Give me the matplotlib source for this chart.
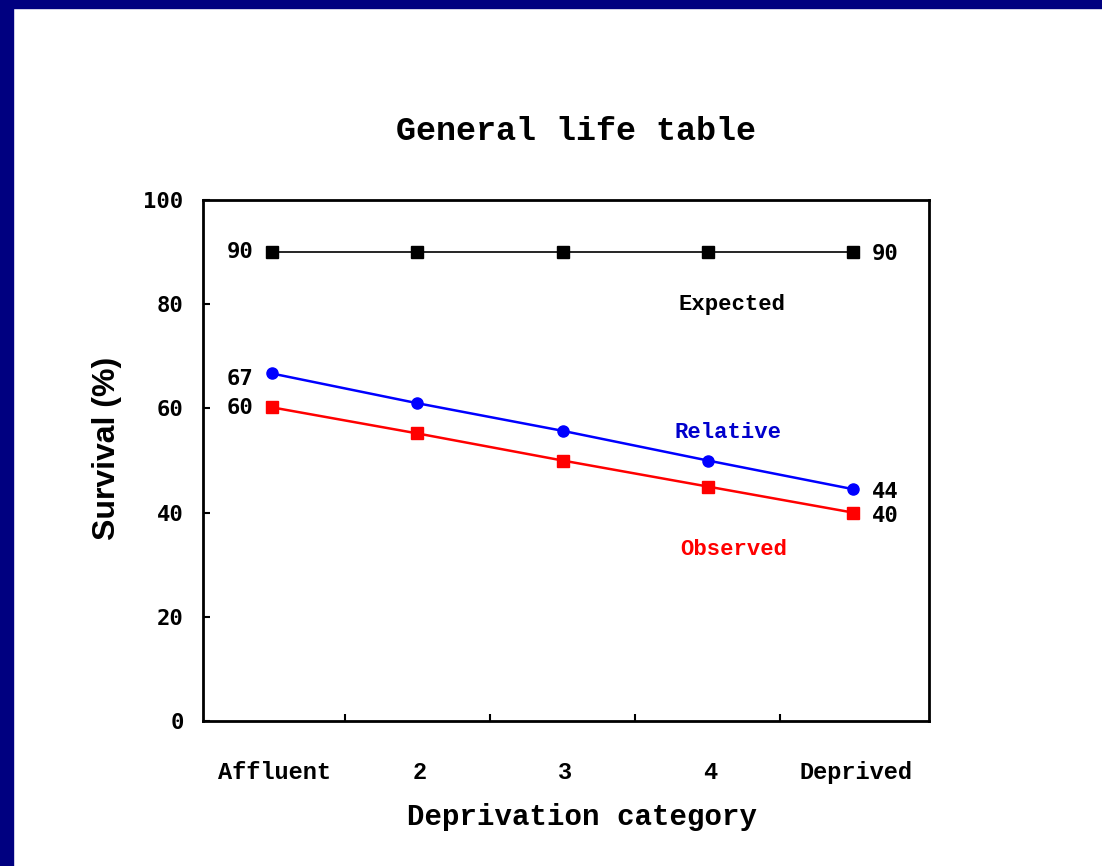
import matplotlib.pyplot as plt
from matplotlib.patches import Rectangle

categories = ["Affluent", "2", "3", "4", "Deprived"]
expected = [90, 90, 90, 90, 90]
relative = [66.7, 61, 55.7, 50, 44.5]
observed = [60.2, 55.2, 50, 45, 40]

mono = "Liberation Mono"
digits = "DejaVu Sans Mono"

fig = plt.figure(figsize=(11.02, 8.66), dpi=100)
fig.patch.set_facecolor("white")
# navy frame of the slide
fig.add_artist(Rectangle((0, 1 - 8 / 866), 1, 8 / 866, transform=fig.transFigure, color="#000080", zorder=0))
fig.add_artist(Rectangle((0, 0), 13 / 1102, 1, transform=fig.transFigure, color="#000080", zorder=0))

ax = fig.add_axes([203 / 1102, 1 - 721 / 866, (929 - 203) / 1102, (721 - 200) / 866])
x = list(range(len(categories)))

ax.plot(x, expected, color="black", lw=1.2, marker="s", ms=8, zorder=3)
ax.plot(x, relative, color="#0000ff", lw=1.8, marker="o", ms=8, zorder=3)
ax.plot(x, observed, color="#ff0000", lw=1.8, marker="s", ms=8, zorder=3)

ax.set_xlim(-0.475, 4.523)
ax.set_ylim(0, 100)
ax.set_yticks([0, 20, 40, 60, 80, 100])
ax.set_xticks([0.5, 1.5, 2.5, 3.5])
ax.set_xticklabels([])
for i, c in enumerate(categories):
    ax.text(i + 0.02, -9.8, c, ha="center", va="center", fontsize=17, fontweight="bold", family=mono)

ax.tick_params(direction="in", length=5, width=1.5)
ax.tick_params(axis="y", pad=14, labelsize=16)
for lab in ax.get_yticklabels():
    lab.set_family(digits)
    lab.set_fontweight("bold")
for s in ax.spines.values():
    s.set_linewidth(2)

# value labels
kw = dict(fontsize=16, family=digits, fontweight="bold", va="center")
ax.text(-0.13, expected[0], "90", ha="right", **kw)
ax.text(0.13 + 4, expected[-1] - 0.4, "90", ha="left", **kw)
ax.text(-0.13, relative[0] - 1, "67", ha="right", **kw)
ax.text(-0.13, observed[0] - 0.2, "60", ha="right", **kw)
ax.text(0.13 + 4, relative[-1] - 0.6, "44", ha="left", **kw)
ax.text(0.13 + 4, observed[-1] - 0.6, "40", ha="left", **kw)

ax.text(3.17, 80, "Expected", color="black", ha="center", va="center", fontsize=16, fontweight="bold", family=mono)
ax.text(3.14, 55.3, "Relative", color="#0000cc", ha="center", va="center", fontsize=16, fontweight="bold", family=mono)
ax.text(3.18, 33, "Observed", color="#ff0000", ha="center", va="center", fontsize=16, fontweight="bold", family=mono)

fig.text(576 / 1102, 1 - 131 / 866, "General life table", ha="center", va="center",
         fontsize=24, fontweight="bold", family=mono)
fig.text(582 / 1102, 1 - 817 / 866, "Deprivation category", ha="center", va="center",
         fontsize=21, fontweight="bold", family=mono)
fig.text(107 / 1102, 1 - 448 / 866, "Survival (%)", ha="center", va="center", rotation=90,
         fontsize=23, fontweight="bold", family="Liberation Sans")

fig.savefig("out.png", dpi=100)
